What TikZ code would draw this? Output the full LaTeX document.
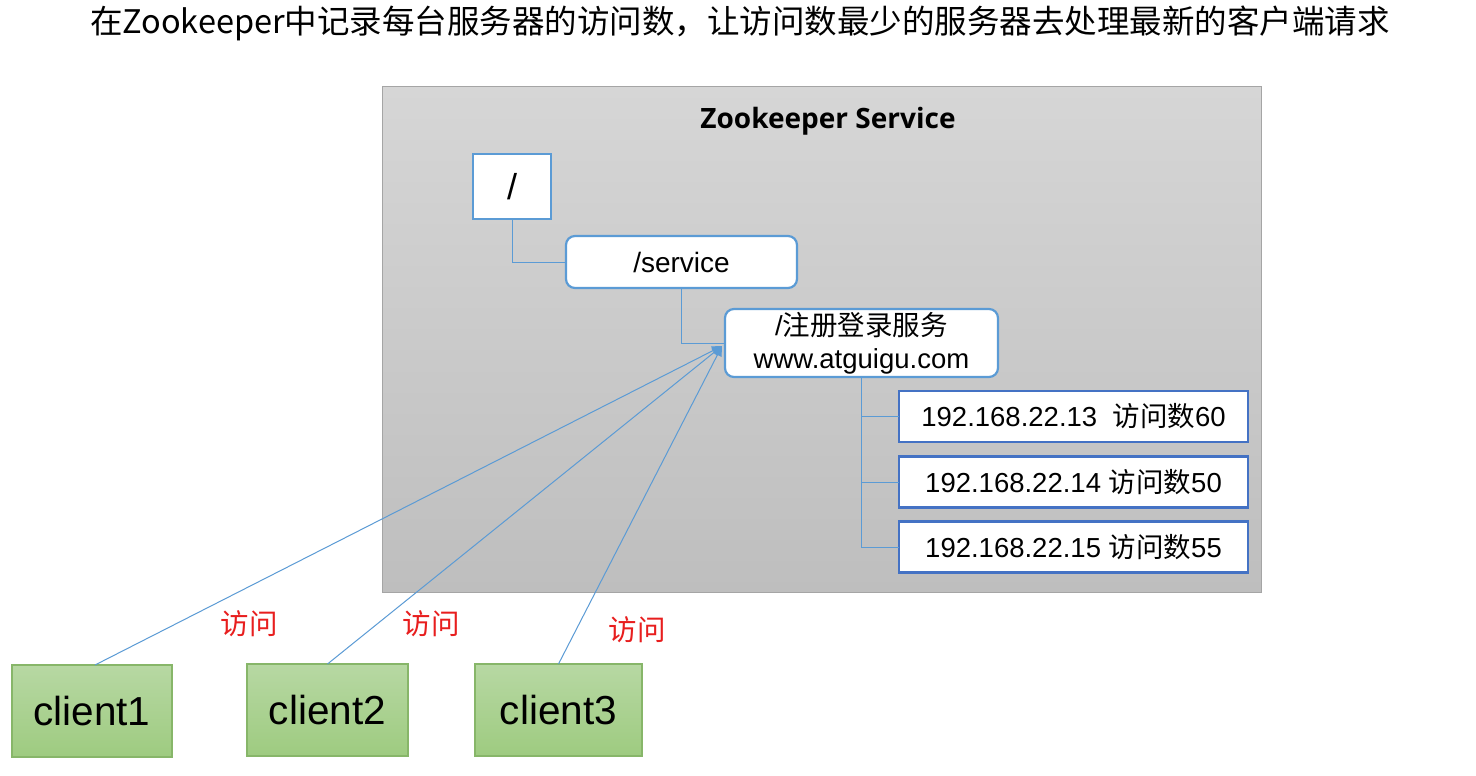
\documentclass[tikz,border=0pt]{standalone}
\usepackage{fontspec}
\setmainfont{Liberation Sans}
\newfontfamily\cjk{Noto Sans CJK SC}
\newfontfamily\opensans{Open Sans}
\usetikzlibrary{arrows.meta}
\definecolor{lblue}{RGB}{91,155,213}
\definecolor{dblue}{RGB}{68,114,196}
\definecolor{gtop}{RGB}{214,214,214}
\definecolor{gbot}{RGB}{190,190,190}
\definecolor{gborder}{RGB}{165,165,165}
\definecolor{ctop}{RGB}{183,216,163}
\definecolor{cbot}{RGB}{158,203,128}
\definecolor{cborder}{RGB}{135,182,105}
\definecolor{redlbl}{RGB}{232,30,30}
\tikzset{
  box/.style={draw=lblue, line width=2.2pt, fill=white, inner sep=0pt, outer sep=0pt, align=center, font=\fontsize{28}{33}\selectfont},
  roundbox/.style={box, rounded corners=9pt},
  ipbox/.style={box, draw=dblue, minimum width=349pt, minimum height=51pt, font=\fontsize{27.5}{32}\selectfont},
  client/.style={draw=cborder, line width=1.2pt, top color=ctop, bottom color=cbot, inner sep=0pt, outer sep=0pt, font=\fontsize{40.5}{46}\selectfont},
  conn/.style={draw=lblue, line width=1pt},
  visit/.style={text=redlbl, font=\cjk\fontsize{28.5}{31}\selectfont, inner sep=0pt}
}
\begin{document}
\begin{tikzpicture}[x=1pt,y=-1pt]
\useasboundingbox (0,0) rectangle (1476,776);
\fill[white] (0,0) rectangle (1476,776);
\node[font=\cjk\fontsize{32.5}{36}\selectfont, inner sep=0pt] (title) at (740,23) {在Zookeeper中记录每台服务器的访问数，让访问数最少的服务器去处理最新的客户端请求};
\node[draw=gborder, line width=1pt, top color=gtop, bottom color=gbot, minimum width=879pt, minimum height=505pt, inner sep=0pt, outer sep=0pt, anchor=north west] (zk) at (382,87) {};
\node[font=\opensans\bfseries\fontsize{28}{32}\selectfont, inner sep=0pt] (zktitle) at (828,121) {Zookeeper Service};
\node[box, minimum width=78pt, minimum height=65pt, font=\fontsize{36}{40}\selectfont] (root) at (512,186.5) {/};
\node[roundbox, minimum width=231pt, minimum height=52pt] (service) at (681.5,262) {/service};
\node[roundbox, minimum width=273pt, minimum height=68pt, font=\fontsize{27.5}{33}\selectfont] (reg) at (861.5,343) {/{\cjk 注册登录服务}\\www.atguigu.com};
\node[ipbox] (ip1) at (1073.5,416.5) {192.168.22.13\ \ {\cjk 访问数}60};
\node[ipbox] (ip2) at (1073.5,482) {192.168.22.14 {\cjk 访问数}50};
\node[ipbox] (ip3) at (1073.5,547) {192.168.22.15 {\cjk 访问数}55};
\draw[conn] (root.south) |- (service.west);
\draw[conn] (service.south) |- (reg.west);
\draw[conn] (reg.south) |- (ip1.west);
\draw[conn] (reg.south) |- (ip2.west);
\draw[conn] (reg.south) |- (ip3.west);
\node[client, minimum width=160pt, minimum height=92pt] (c1) at (92,711) {client1};
\node[client, minimum width=161pt, minimum height=92pt] (c2) at (327.5,710) {client2};
\node[client, minimum width=167pt, minimum height=92pt] (c3) at (558.5,710) {client3};
\coordinate (tip) at (722,346);
\draw[conn, -{Triangle[width=9pt,length=10pt]}] ([xshift=3pt]c1.north) -- (tip);
\draw[conn, -{Triangle[width=9pt,length=10pt]}] (c2.north) -- (tip);
\draw[conn, -{Triangle[width=9pt,length=10pt]}] (c3.north) -- (tip);
\node[visit] (v1) at (249,624) {访问};
\node[visit] (v2) at (431,624) {访问};
\node[visit] (v3) at (637,630) {访问};
\end{tikzpicture}
\end{document}
